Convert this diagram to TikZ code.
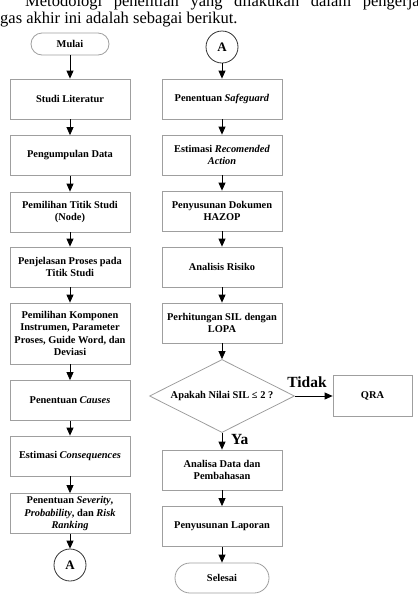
\documentclass[tikz,border=0pt]{standalone}
\usepackage{fontspec}
\setmainfont{Liberation Serif}
\usetikzlibrary{shapes.geometric,arrows.meta}
\begin{document}
\begin{tikzpicture}[x=1pt,y=-1pt,
  box/.style={draw=gray!75,line width=0.8pt,rectangle,minimum width=120pt,minimum height=40pt,
    align=center,inner sep=2pt,font=\fontsize{10.4}{12.6}\selectfont\bfseries},
  term/.style={draw=gray!75,line width=0.8pt,rectangle,rounded corners=11pt,minimum width=78pt,
    minimum height=22pt,font=\fontsize{10.4}{12}\selectfont\bfseries},
  conn/.style={draw=black!80,line width=0.8pt,circle,minimum size=32pt,inner sep=0pt,
    font=\fontsize{13}{13}\selectfont\bfseries},
  arr/.style={-{Triangle[length=8pt,width=7pt]},line width=0.8pt}]
\pgfmathsetmacro{\xl}{70};
\pgfmathsetmacro{\xr}{222};
\useasboundingbox (0,0) rectangle (418,595);
\node[anchor=base west,inner sep=0pt,font=\fontsize{16.5}{18}\selectfont] (par1) at (25,6)
  {\hbox to 410pt{Metodologi\hfill penelitian\hfill yang\hfill dilakukan\hfill dalam\hfill pengerjaan}};
\node[anchor=base west,inner sep=0pt,font=\fontsize{16.5}{18}\selectfont] (par2) at (0,23)
  {gas akhir ini adalah sebagai berikut.};
% kolom kiri
\node[term] (mulai) at (\xl,44) {Mulai};
\node[box] (studi) at (\xl,99) {Studi Literatur};
\node[box] (data) at (\xl,155.5) {Pengumpulan Data};
\node[box] (titik) at (\xl,212) {Pemilihan Titik Studi\\(Node)};
\node[box] (proses) at (\xl,267) {Penjelasan Proses pada\\Titik Studi};
\node[box,minimum height=61pt] (komponen) at (\xl,333.5)
  {Pemilihan Komponen\\Instrumen, Parameter\\Proses, Guide Word, dan\\Deviasi};
\node[box] (causes) at (\xl,400.5) {Penentuan \textit{Causes}};
\node[box] (conseq) at (\xl,456) {Estimasi \textit{Consequences}};
\node[box] (severity) at (\xl,513.5) {Penentuan \textit{Severity},\\\textit{Probability}, dan \textit{Risk}\\\textit{Ranking}};
\node[conn] (a1) at (\xl,565) {A};
% kolom kanan
\node[conn] (a2) at (\xr,47) {A};
\node[box] (safeguard) at (\xr,99) {Penentuan \textit{Safeguard}};
\node[box] (action) at (\xr,155) {Estimasi \textit{Recomended}\\\textit{Action}};
\node[box] (hazop) at (\xr,211) {Penyusunan Dokumen\\HAZOP};
\node[box] (risiko) at (\xr,267) {Analisis Risiko};
\node[box] (lopa) at (\xr,323) {Perhitungan SIL dengan\\LOPA};
\node[diamond,draw=gray!75,line width=0.8pt,minimum width=145pt,minimum height=73pt,inner sep=0pt,
  aspect=2,font=\fontsize{10.4}{12}\selectfont\bfseries] (sil) at (\xr,396) {Apakah Nilai SIL ≤ 2 ?};
\node[box,minimum width=79pt,minimum height=41pt] (qra) at (372.5,396) {QRA};
\node[box] (analisa) at (\xr,470) {Analisa Data dan\\Pembahasan};
\node[box] (laporan) at (\xr,526.5) {Penyusunan Laporan};
\node[term,minimum width=94pt,minimum height=30pt,rounded corners=15pt] (selesai) at (\xr,578) {Selesai};
\node[inner sep=0pt,font=\fontsize{15.5}{16}\selectfont\bfseries] (tidak) at (307,382) {Tidak};
\node[anchor=west,inner sep=0pt,font=\fontsize{15.5}{16}\selectfont\bfseries] (ya) at (231,439) {Ya};
% panah
\draw[arr] (mulai) -- (studi);
\draw[arr] (studi) -- (data);
\draw[arr] (data) -- (titik);
\draw[arr] (titik) -- (proses);
\draw[arr] (proses) -- (komponen);
\draw[arr] (komponen) -- (causes);
\draw[arr] (causes) -- (conseq);
\draw[arr] (conseq) -- (severity);
\draw[arr] (severity) -- (a1);
\draw[arr] (a2) -- (safeguard);
\draw[arr] (safeguard) -- (action);
\draw[arr] (action) -- (hazop);
\draw[arr] (hazop) -- (risiko);
\draw[arr] (risiko) -- (lopa);
\draw[arr] (lopa) -- (sil);
\draw[arr] (sil) -- (qra);
\draw[arr] (sil) -- (analisa);
\draw[arr] (analisa) -- (laporan);
\draw[arr] (laporan) -- (selesai);
\end{tikzpicture}
\end{document}
